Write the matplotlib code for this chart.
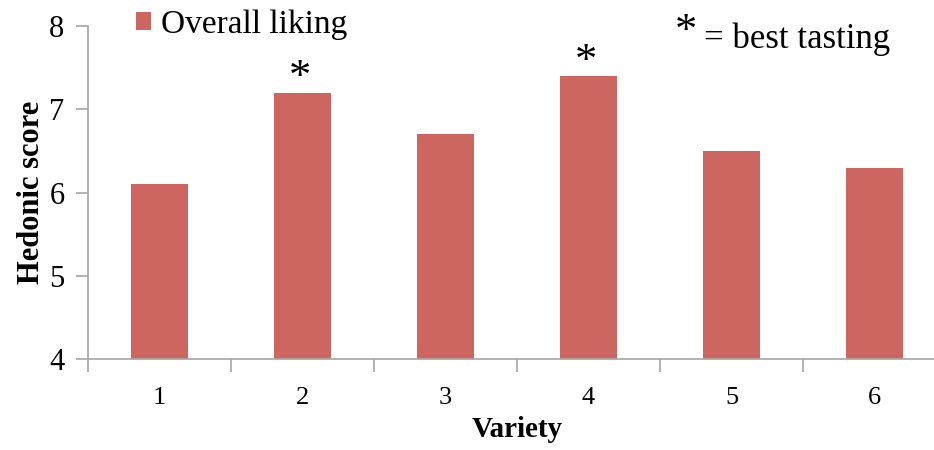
import matplotlib.pyplot as plt
import numpy as np

varieties = ["1", "2", "3", "4", "5", "6"]
liking = [6.1, 7.2, 6.7, 7.4, 6.5, 6.3]
best = ["2", "4"]

bar_color = "#CD6660"
axis_color = "#A6A6A6"

plt.rcParams["font.family"] = ["Liberation Serif", "DejaVu Serif"]

fig = plt.figure(figsize=(9.34, 4.5), dpi=100)
ax = fig.add_axes([88 / 934, 91 / 450, 858 / 934, 333 / 450])

x = np.arange(len(varieties))
ax.bar(x, liking, width=0.4, color=bar_color, label="Overall liking", zorder=2)

ax.set_xlim(-0.5, len(varieties) - 0.5)
ax.set_ylim(4, 8)
ax.set_yticks([4, 5, 6, 7, 8])
ax.tick_params(axis="y", labelsize=22, length=9, width=1.2, color=axis_color, pad=8)

ax.set_xticks(x)
ax.set_xticklabels(varieties)
ax.set_xticks(np.arange(-0.5, len(varieties)), minor=True)
ax.tick_params(axis="x", which="major", length=0, labelsize=19, pad=20)
ax.tick_params(axis="x", which="minor", length=9, width=1.2, color=axis_color)

for side in ["top", "right"]:
    ax.spines[side].set_visible(False)
for side in ["left", "bottom"]:
    ax.spines[side].set_color(axis_color)
    ax.spines[side].set_linewidth(1.2)

ax.set_ylabel("Hedonic score", fontsize=22, fontweight="bold", labelpad=2)
ax.set_xlabel("Variety", fontsize=21, fontweight="bold", labelpad=5)

# stars over the best tasting varieties
for name, val in zip(varieties, liking):
    if name in best:
        i = varieties.index(name)
        ax.annotate("*", (i, val), xytext=(-2, -4), textcoords="offset points",
                    ha="center", va="bottom", fontsize=32)

ax.legend(loc="upper left", bbox_to_anchor=(0.021, 1.14), frameon=False,
          fontsize=24, handlelength=0.45, handleheight=0.45, handletextpad=0.3)

fig.text(686 / 934, 1 - 32 / 450, "*", fontsize=32, ha="center", va="center")
fig.text(704 / 934, 1 - 39 / 450, "= best tasting", fontsize=25, ha="left", va="center")

fig.savefig("out.png", dpi=100)
